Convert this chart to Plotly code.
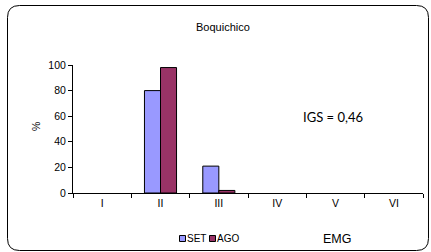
import plotly.graph_objects as go

categories = ["I", "II", "III", "IV", "V", "VI"]
set_values = [0, 80, 21, 0, 0, 0]
ago_values = [0, 98, 2, 0, 0, 0]
y_ticks = [0, 20, 40, 60, 80, 100]
series_names = ["SET", "AGO"]
series_colors = ["#9999FF", "#993366"]

W, H = 431, 252
L, R, T, B = 73, 8, 65, 59
pw, ph = W - L - R, H - T - B

def px(x):
    return (x - L) / pw

def py(y):
    return 1 - (y - T) / ph

x0, x1, y0, y1, r = 7.5, 428.5, 5.5, 250.5, 12
def P(x, y):
    return f"{px(x):.5f},{py(y):.5f}"
path = (f"M {P(x0 + r, y0)} L {P(x1 - r, y0)} Q {P(x1, y0)} {P(x1, y0 + r)} "
        f"L {P(x1, y1 - r)} Q {P(x1, y1)} {P(x1 - r, y1)} "
        f"L {P(x0 + r, y1)} Q {P(x0, y1)} {P(x0, y1 - r)} "
        f"L {P(x0, y0 + r)} Q {P(x0, y0)} {P(x0 + r, y0)} Z")

font = "Liberation Sans, Arial, sans-serif"

def line_widths(vals):
    return [1 if v else 0 for v in vals]

def ann(text, x, y, size, xanchor="center", family=None, angle=0, pad=1):
    f = dict(size=size)
    if family:
        f["family"] = family
    return dict(text=text, x=px(x), y=py(y), xref="paper", yref="paper",
                xanchor=xanchor, yanchor="middle", showarrow=False,
                textangle=angle, font=f, borderpad=pad)

fig = go.Figure()
for name, vals, col in zip(series_names, [set_values, ago_values], series_colors):
    fig.add_trace(go.Bar(x=categories, y=vals, name=name,
                         marker=dict(color=col,
                                     line=dict(color="black", width=line_widths(vals)))))

shapes = [dict(type="path", xref="paper", yref="paper", path=path,
               line=dict(color="black", width=1), layer="below")]
annotations = [
    ann("Boquichico", 223, 27, 11),
    ann("%", 36, 127, 10.5, angle=-90),
    ann("IGS = 0,46", 333, 116.5, 13, family="Lato, Open Sans, sans-serif"),
    ann("EMG", 337, 238.5, 12.5),
]
# legend keys
for (sx, tx), name, col in zip([(179, 186), (209, 216)], series_names, series_colors):
    shapes.append(dict(type="rect", xref="paper", yref="paper",
                       x0=px(sx + 0.5), x1=px(sx + 6.5), y0=py(235.5), y1=py(241.5),
                       fillcolor=col, line=dict(color="black", width=1)))
    annotations.append(ann(name, tx, 238.5, 10, xanchor="left", pad=0))

fig.update_layout(
    width=W, height=H,
    margin=dict(l=L, r=R, t=T, b=B, autoexpand=False),
    paper_bgcolor="white", plot_bgcolor="white",
    barmode="group", bargap=0.45, bargroupgap=0,
    font=dict(family=font, size=10.5, color="black"),
    showlegend=False,
    shapes=shapes,
    annotations=annotations,
)
fig.update_xaxes(showline=True, linecolor="black", linewidth=1, ticks="outside",
                 tickson="boundaries", ticklen=4, tickcolor="black", showgrid=False,
                 tickfont=dict(size=10.5, color="black"))
fig.update_yaxes(range=[0, 100], tickvals=y_ticks, showline=True, linecolor="black",
                 linewidth=1, ticks="outside", ticklen=4, tickcolor="black",
                 showgrid=False, zeroline=False, tickfont=dict(size=10.5, color="black"))

fig.write_html("out.html", config={"displayModeBar": False},
               post_script="document.body.style.margin='0';")
